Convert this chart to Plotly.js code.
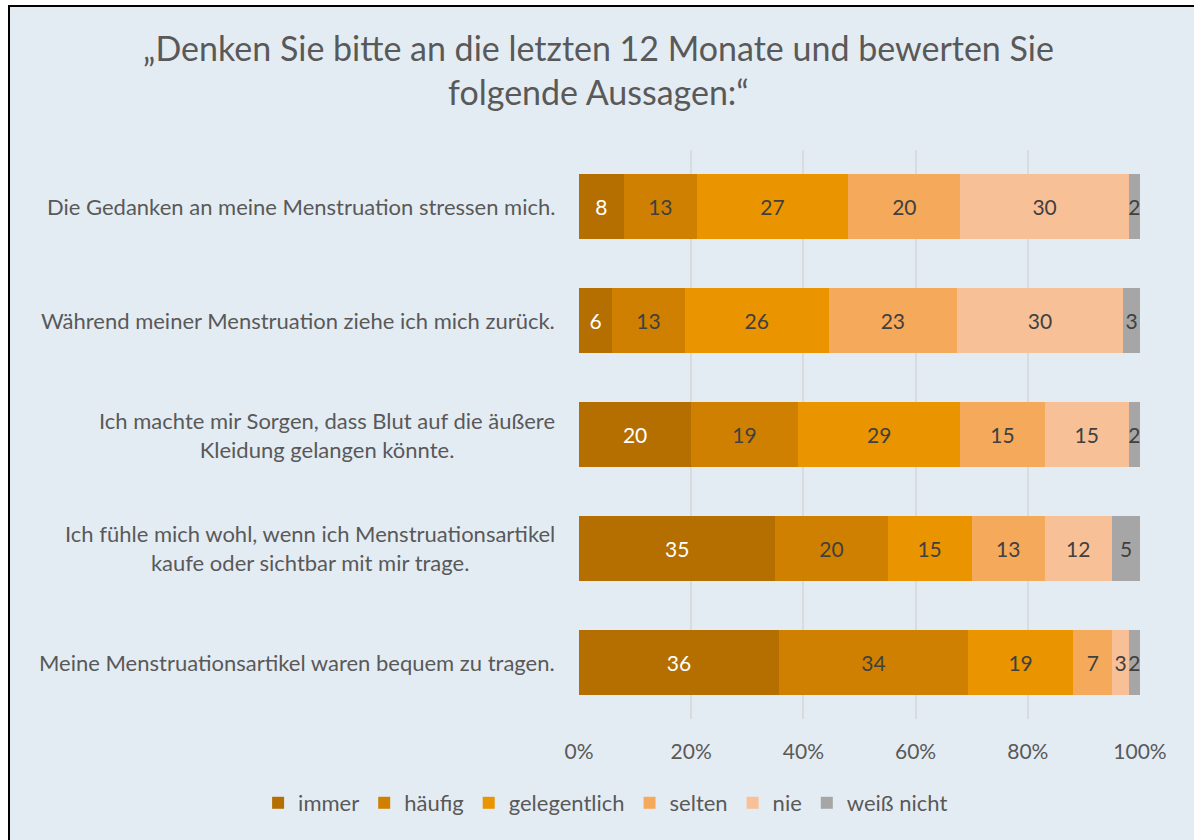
<!DOCTYPE html>
<html>
<head>
<meta charset="utf-8">
<script src="https://cdn.plot.ly/plotly-3.0.1.min.js"></script>
<style>
  html, body { margin: 0; padding: 0; background: #ffffff; }
  #frame { position: absolute; left: 8px; top: 5px; width: 1184px; height: 840px; border: 2px solid #000; background: #E4ECF3; }
  #chart { width: 1184px; height: 833px; }
</style>
</head>
<body>
<div id="frame"><div id="chart"></div></div>
<script>
const categories = [
  "Die Gedanken an meine Menstruation stressen mich.",
  "Während meiner Menstruation ziehe ich mich zurück.",
  "Ich machte mir Sorgen, dass Blut auf die äußere<br>Kleidung gelangen könnte.",
  "Ich fühle mich wohl, wenn ich Menstruationsartikel<br>kaufe oder sichtbar mit mir trage.",
  "Meine Menstruationsartikel waren bequem zu tragen."
];
const seriesNames = ["immer", "häufig", "gelegentlich", "selten", "nie", "weiß nicht"];
const immer        = [8, 6, 20, 35, 36];
const haeufig      = [13, 13, 19, 20, 34];
const gelegentlich = [27, 26, 29, 15, 19];
const selten       = [20, 23, 15, 13, 7];
const nie          = [30, 30, 15, 12, 3];
const weissNicht   = [2, 3, 2, 5, 2];
const xTickVals  = [0, 20, 40, 60, 80, 100];
const xTickText  = ["0%", "20%", "40%", "60%", "80%", "100%"];

const colors = ["#B46F00", "#D08000", "#EA9500", "#F5A95A", "#F8C097", "#A6A6A6"];
const textColors = ["#FFFFFF", "#404040", "#404040", "#404040", "#404040", "#404040"];
const seriesValues = [immer, haeufig, gelegentlich, selten, nie, weissNicht];
const FONT = "Lato, 'Open Sans', sans-serif";

const traces = seriesValues.map((vals, i) => ({
  type: "bar",
  orientation: "h",
  name: seriesNames[i],
  y: categories,
  x: vals,
  text: vals.map(String),
  texttemplate: "%{text}",
  textposition: "inside",
  insidetextanchor: "middle",
  textangle: 0,
  constraintext: "none",
  cliponaxis: false,
  insidetextfont: { family: FONT, size: 21, color: textColors[i] },
  marker: { color: colors[i], line: { width: 0 } },
  hoverinfo: "name+x"
}));

const annotations = categories.map(c => ({
  xref: "paper", yref: "y",
  x: 0, y: c,
  xanchor: "right", yanchor: "middle",
  xshift: -22,
  align: "center",
  text: c,
  showarrow: false,
  font: { family: FONT, size: 22, color: "#595959" }
}));

const layout = {
  width: 1184, height: 833,
  paper_bgcolor: "#E4ECF3",
  plot_bgcolor: "#E4ECF3",
  barmode: "stack",
  barnorm: "percent",
  bargap: 0.43,
  margin: { l: 569, r: 54, t: 143, b: 121 },
  title: {
    text: "„Denken Sie bitte an die letzten 12 Monate und bewerten Sie<br>folgende Aussagen:“",
    font: { family: FONT, size: 34, color: "#595959" },
    xref: "container", x: 0.497, xanchor: "center",
    yref: "container", y: 0.935, yanchor: "top"
  },
  xaxis: {
    range: [0, 100],
    tickvals: xTickVals,
    ticktext: xTickText,
    showgrid: true,
    gridcolor: "#D8DCDF",
    gridwidth: 2,
    zeroline: false,
    showline: false,
    ticks: "",
    ticklabelstandoff: 18,
    tickfont: { family: FONT, size: 21, color: "#595959" },
    fixedrange: true
  },
  yaxis: {
    autorange: "reversed",
    showticklabels: false,
    showgrid: false,
    zeroline: false,
    showline: false,
    ticks: "",
    fixedrange: true
  },
  legend: {
    orientation: "h",
    xref: "paper", x: -0.572, xanchor: "left",
    yref: "paper", y: -0.1476, yanchor: "middle",
    font: { family: FONT, size: 22, color: "#595959" },
    traceorder: "normal",
    itemwidth: 30,
    bgcolor: "rgba(0,0,0,0)"
  },
  annotations: annotations,
  showlegend: true
};

Plotly.newPlot("chart", traces, layout, { displayModeBar: false, staticPlot: true });
</script>
</body>
</html>
